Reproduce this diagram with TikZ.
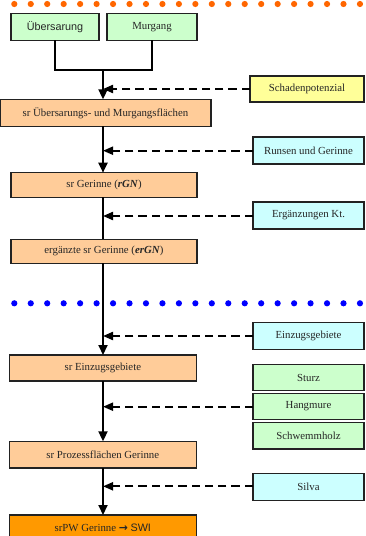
\documentclass[tikz,border=0pt]{standalone}
\usepackage{fontspec}
\setmainfont{Liberation Serif}
\newfontfamily\arialf{Liberation Sans}
\newfontfamily\dejavu{DejaVu Sans}
\usetikzlibrary{arrows.meta,positioning}
\definecolor{lgreen}{HTML}{CCFFCC}
\definecolor{lyellow}{HTML}{FFFF99}
\definecolor{lcyan}{HTML}{CCFFFF}
\definecolor{lorange}{HTML}{FFCC99}
\definecolor{dorange}{HTML}{FF9900}
\definecolor{dotorange}{HTML}{FF6600}
\definecolor{dotblue}{HTML}{0000FF}
\definecolor{edge}{HTML}{222222}
\tikzset{
  box/.style={draw=edge,line width=1.3pt,inner sep=0pt,outer sep=0pt,anchor=north west,
    text=black!85,font=\fontsize{10.8}{12}\selectfont},
  mainline/.style={line width=2pt,black},
  flow/.style={mainline,-{Triangle[length=10pt,width=9pt]}},
  feed/.style={line width=2pt,black,dash pattern=on 8.3pt off 5pt,-{Triangle[length=10pt,width=8pt]}},
  dotrow/.style={fill=#1,draw=none},
}
\begin{document}
\begin{tikzpicture}[x=1pt,y=-1pt]
\useasboundingbox (0,0) rectangle (365,536);
% dots
\foreach \i in {0,...,21} {
  \fill[dotorange] (14.3+\i*16.46,4) circle (3.1);
  \fill[dotblue] (14.3+\i*16.46,303.3) circle (3.1);
}
% top boxes
\node[box,fill=lgreen,minimum width=88pt,minimum height=27pt] (ub) at (11,13.3) {\arialf Übersarung};
\node[box,fill=lgreen,minimum width=90pt,minimum height=27pt] (mg) at (107,13.3) {Murgang};
% right boxes
\node[box,fill=lyellow,minimum width=114pt,minimum height=26pt] (sp) at (250,76) {Schadenpotenzial};
\node[box,fill=lcyan,minimum width=111pt,minimum height=27pt] (rg) at (253,137) {Runsen und Gerinne};
\node[box,fill=lcyan,minimum width=111pt,minimum height=27pt] (ek) at (253,202) {Ergänzungen Kt.};
\node[box,fill=lcyan,minimum width=111pt,minimum height=27pt] (ez) at (253,322.3) {Einzugsgebiete};
\node[box,fill=lgreen,minimum width=111pt,minimum height=26pt] (st) at (253,364.7) {Sturz};
\node[box,fill=lgreen,minimum width=111pt,minimum height=26pt] (hm) at (253,393.3) {Hangmure};
\node[box,fill=lgreen,minimum width=111pt,minimum height=26.5pt] (sh) at (253,422.5) {Schwemmholz};
\node[box,fill=lcyan,minimum width=111pt,minimum height=26.5pt] (si) at (253,473.7) {Silva};
% left boxes
\node[box,fill=lorange,minimum width=211pt,minimum height=27pt] (b1) at (0,99.3) {sr Übersarungs- und Murgangsflächen};
\node[box,fill=lorange,minimum width=186pt,minimum height=24.6pt] (b2) at (11,172.7) {sr Gerinne (\textbf{\textit{rGN}})};
\node[box,fill=lorange,minimum width=186pt,minimum height=24pt] (b3) at (11,239.3) {ergänzte sr Gerinne (\textbf{\textit{erGN}})};
\node[box,fill=lorange,minimum width=187pt,minimum height=26pt] (b4) at (9.3,355) {sr Einzugsgebiete};
\node[box,fill=lorange,minimum width=187pt,minimum height=26.7pt] (b5) at (9.3,441.3) {sr Prozessflächen Gerinne};
\node[box,fill=dorange,minimum width=187pt,minimum height=26pt] (b6) at (9.3,515) {srPW Gerinne {\dejavu\bfseries →} {\arialf SWI}};
% junction
\coordinate (j) at (103,70);
\draw[mainline] (ub.south -| 55,0) |- (j) -| (mg.south -| 152,0);
\draw[flow] (j) -- (j |- b1.north);
\draw[flow] (b1.south -| j) -- (b2.north -| j);
\draw[mainline] (b2.south -| j) -- (b3.north -| j);
\draw[flow] (b3.south -| j) -- (b4.north -| j);
\draw[flow] (b4.south -| j) -- (b5.north -| j);
\draw[flow] (b5.south -| j) -- (b6.north -| j);
% feeds
\coordinate (f1) at (103,89);
\coordinate (f2) at (103,150.7);
\coordinate (f3) at (103,216);
\coordinate (f4) at (103,336);
\coordinate (f5) at (103,406.7);
\coordinate (f6) at (103,486.3);
\draw[feed] (sp.west |- f1) -- (f1);
\draw[feed] (rg.west |- f2) -- (f2);
\draw[feed] (ek.west |- f3) -- (f3);
\draw[feed] (ez.west |- f4) -- (f4);
\draw[feed] (hm.west |- f5) -- (f5);
\draw[feed] (si.west |- f6) -- (f6);
\end{tikzpicture}
\end{document}
